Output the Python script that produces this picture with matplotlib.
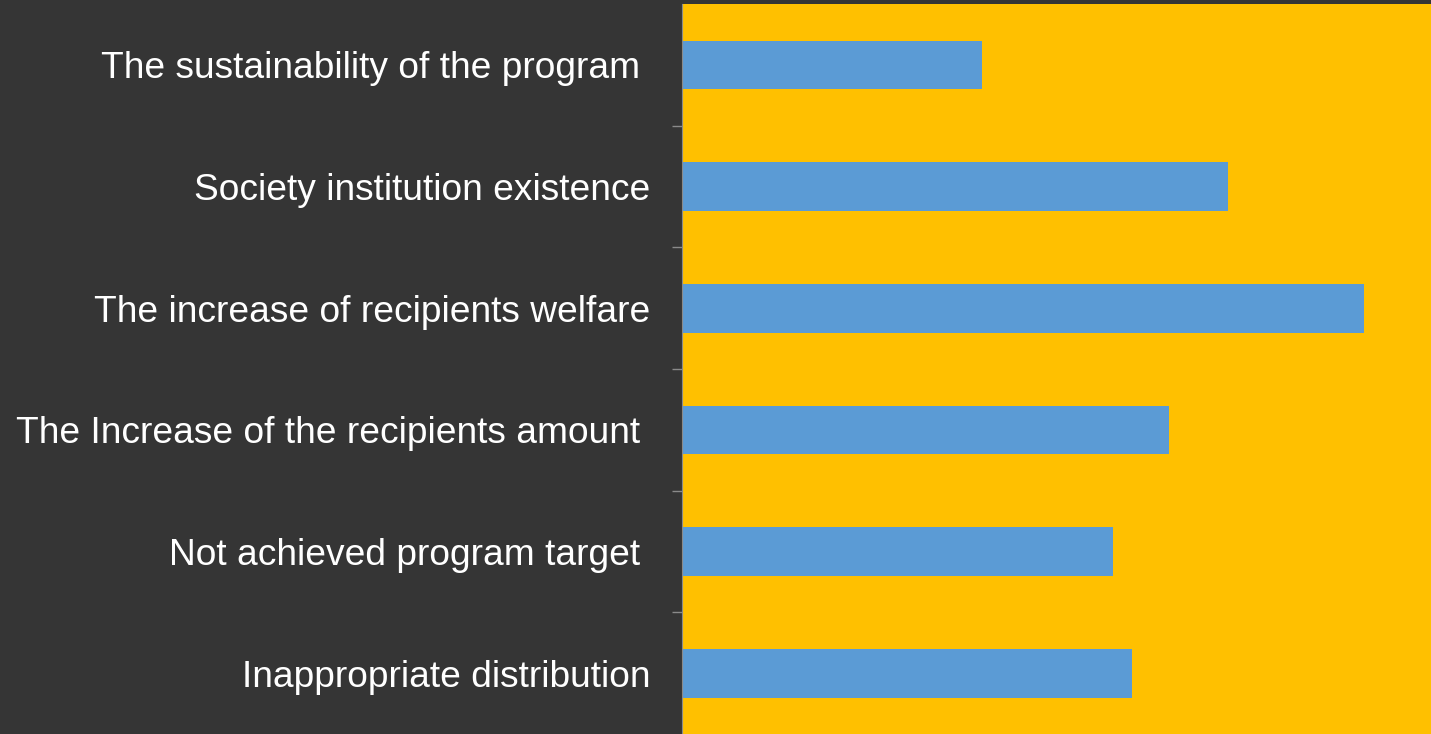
import numpy as np
from matplotlib import pyplot as plt

categories = [
    'The sustainability of the program ',
    'Society institution existence',
    'The increase of recipients welfare',
    'The Increase of the recipients amount ',
    'Not achieved program target ',
    'Inappropriate distribution',
]
values = [22, 40, 50, 35.7, 31.6, 33]

fig = plt.figure(figsize=(14.31, 7.34), dpi=100)
fig.patch.set_facecolor('#353535')

ax = fig.add_axes([682 / 1431, 0, 1 - 682 / 1431, 1 - 4 / 734])
ax.set_facecolor('#FFC000')

y = np.arange(len(categories))
ax.barh(y, values, height=0.4, color='#5B9BD5')

ax.set_ylim(len(categories) - 0.5, -0.5)
ax.set_xlim(0, 54.9)

ax.set_yticks(y)
ax.set_yticklabels(categories, fontsize=26.7, color='white', family='Liberation Sans')
ax.set_yticks(np.arange(0.5, len(categories) - 0.5, 1), minor=True)
ax.tick_params(axis='y', which='major', length=0, pad=23)
ax.tick_params(axis='y', which='minor', length=7, color='#8a8a8a', width=1)
ax.set_xticks([])

for s in ['top', 'right', 'bottom']:
    ax.spines[s].set_visible(False)
ax.spines['left'].set_color('#8a8a8a')

fig.savefig('out.png', dpi=100, facecolor=fig.get_facecolor())
